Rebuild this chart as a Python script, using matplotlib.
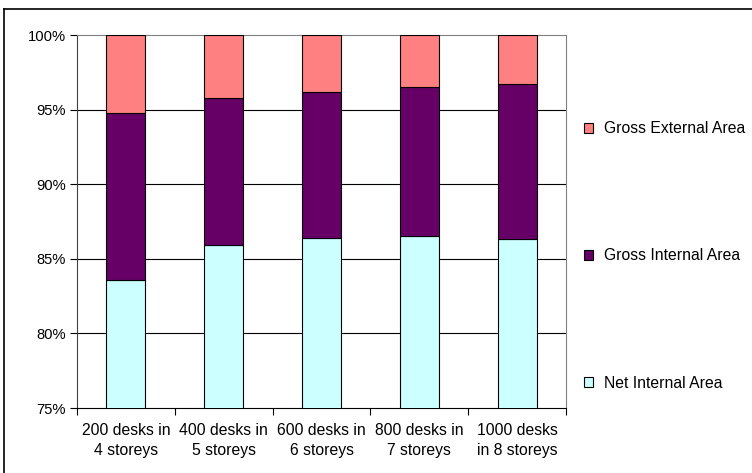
import numpy as np
from matplotlib import pyplot as plt
from matplotlib.ticker import FuncFormatter
from matplotlib.lines import Line2D

categories = ["200 desks in\n4 storeys", "400 desks in\n5 storeys", "600 desks in\n6 storeys",
              "800 desks in\n7 storeys", "1000 desks\nin 8 storeys"]
net_internal = [83.6, 85.9, 86.4, 86.5, 86.3]
gross_internal = [11.2, 9.9, 9.8, 10.0, 10.4]
gross_external = [5.2, 4.2, 3.8, 3.5, 3.3]

names = ["Net Internal Area", "Gross Internal Area", "Gross External Area"]
colors = ["#CCFFFF", "#660066", "#FF8080"]

plt.rcParams['font.family'] = ['Liberation Sans', 'DejaVu Sans']

W, H = 752, 473
fig = plt.figure(figsize=(W / 100, H / 100), dpi=100)
ax = fig.add_axes([77 / W, (H - 408) / H, 489 / W, 373 / H])

x = np.arange(len(categories))
bottom = np.zeros(len(categories))
bars = []
for vals, name, c in zip([net_internal, gross_internal, gross_external], names, colors):
    b = ax.bar(x, vals, 0.4, bottom=bottom, color=c, edgecolor="black", linewidth=0.8,
               label=name, zorder=3)
    bars.append(b)
    bottom += np.array(vals)

ax.set_xlim(-0.5, len(categories) - 0.5)
ax.set_ylim(75, 100)
ax.set_yticks([75, 80, 85, 90, 95, 100])
ax.yaxis.set_major_formatter(FuncFormatter(lambda v, p: "%d%%" % v))
for yv in [80, 85, 90, 95]:
    ax.axhline(yv, color="black", linewidth=0.8, zorder=1)

ax.set_xticks(x)
ax.set_xticklabels(categories, fontsize=11.3, linespacing=1.4)
ax.set_xticks(np.arange(-0.5, len(categories)), minor=True)
ax.tick_params(axis="x", which="major", length=0, pad=11)
ax.tick_params(axis="x", which="minor", length=5, width=0.8, direction="out", color="black")
ax.tick_params(axis="y", length=5, width=0.8, direction="out", labelsize=10.6, pad=3)

ax.spines["top"].set_color("#808080")
ax.spines["right"].set_color("#808080")
ax.spines["left"].set_color("#404040")
ax.spines["bottom"].set_color("black")
for s in ax.spines.values():
    s.set_linewidth(0.8)

handles = [bars[2], bars[1], bars[0]]
leg = fig.legend(handles, [names[2], names[1], names[0]], loc="center left",
                 bbox_to_anchor=(584 / W, 1 - 256 / H), frameon=False, fontsize=11.3,
                 labelspacing=7.15, handlelength=0.6, handleheight=0.6,
                 handletextpad=0.7, borderpad=0, borderaxespad=0)

# outer chart border (left and top visible)
fig.add_artist(Line2D([3.5 / W, 3.5 / W], [0, 1 - 9.5 / H], color="black", linewidth=1.2,
                      transform=fig.transFigure))
fig.add_artist(Line2D([3.5 / W, 1], [1 - 9.5 / H, 1 - 9.5 / H], color="black", linewidth=1.2,
                      transform=fig.transFigure))

fig.savefig("out.png", dpi=100)
